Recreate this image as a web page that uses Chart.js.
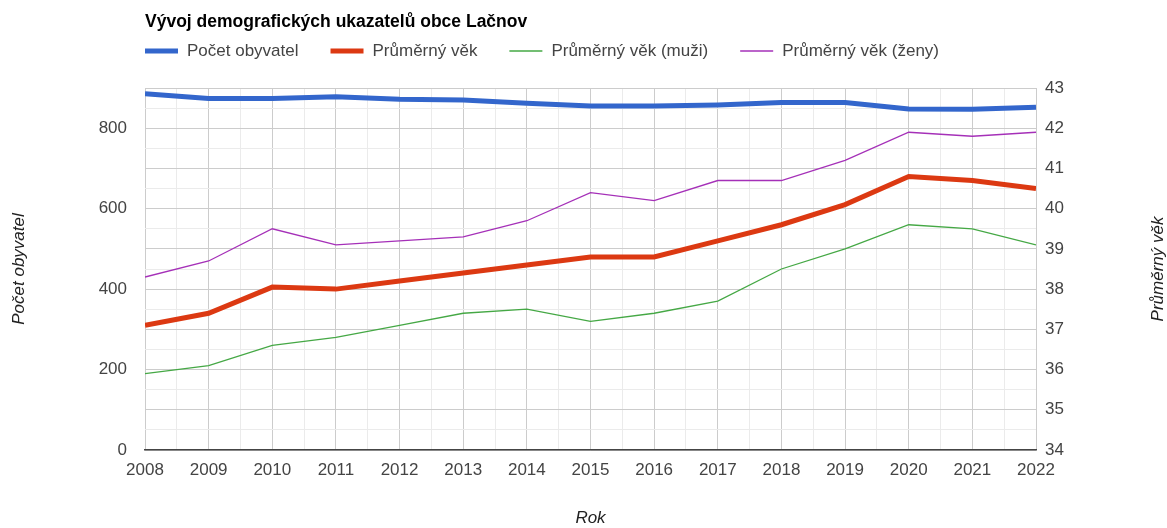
<!DOCTYPE html>
<html lang="cs">
<head>
<meta charset="utf-8">
<title>Vývoj demografických ukazatelů obce Lačnov</title>
<script src="https://cdn.jsdelivr.net/npm/chart.js@4.4.1/dist/chart.umd.min.js"></script>
<style>
  html, body { margin: 0; padding: 0; background: #fff; }
  #wrap { width: 1167px; height: 528px; position: relative; }
</style>
</head>
<body>
<div id="wrap"><canvas id="chart" width="1167" height="528"></canvas></div>
<script>
const years = [2008, 2009, 2010, 2011, 2012, 2013, 2014, 2015, 2016, 2017, 2018, 2019, 2020, 2021, 2022];
const pocetObyvatel = [886, 874, 874, 878, 872, 870, 862, 855, 855, 858, 864, 864, 848, 847, 852];
const prumernyVek = [37.1, 37.4, 38.05, 38.0, 38.2, 38.4, 38.6, 38.8, 38.8, 39.2, 39.6, 40.1, 40.8, 40.7, 40.5];
const vekMuzi = [35.9, 36.1, 36.6, 36.8, 37.1, 37.4, 37.5, 37.2, 37.4, 37.7, 38.5, 39.0, 39.6, 39.5, 39.1];
const vekZeny = [38.3, 38.7, 39.5, 39.1, 39.2, 39.3, 39.7, 40.4, 40.2, 40.7, 40.7, 41.2, 41.9, 41.8, 41.9];

const chartTitle = 'Vývoj demografických ukazatelů obce Lačnov';
const FONT = 'Arial, "Liberation Sans", sans-serif';
const TEXT = '#444';
const FS = 17;

const pts = vals => vals.map((v, i) => ({ x: years[i], y: v }));

// title + legend drawn above the plot, lined up with the chart area (google style)
const headerPlugin = {
  id: 'header',
  afterDraw(chart) {
    const ctx = chart.ctx;
    const left = chart.chartArea.left;
    ctx.save();
    ctx.fillStyle = '#000';
    ctx.font = 'bold 17.5px ' + FONT;
    ctx.textBaseline = 'middle';
    ctx.textAlign = 'left';
    ctx.fillText(chartTitle, left, 22);

    ctx.font = FS + 'px ' + FONT;
    let x = left;
    const y = 51;
    for (const ds of chart.data.datasets) {
      ctx.strokeStyle = ds.borderColor;
      ctx.lineWidth = ds.borderWidth;
      ctx.beginPath();
      ctx.moveTo(x, y);
      ctx.lineTo(x + 33, y);
      ctx.stroke();
      ctx.fillStyle = TEXT;
      ctx.fillText(ds.label, x + 42, y);
      x += 42 + ctx.measureText(ds.label).width + 32;
    }

    // right axis title, reading bottom to top
    ctx.font = 'italic ' + FS + 'px ' + FONT;
    ctx.fillStyle = '#222';
    ctx.textAlign = 'center';
    ctx.translate(1158, (chart.chartArea.top + chart.chartArea.bottom) / 2);
    ctx.rotate(-Math.PI / 2);
    ctx.fillText('Průměrný věk', 0, 0);
    ctx.restore();
  }
};

const ctx = document.getElementById('chart').getContext('2d');
new Chart(ctx, {
  type: 'line',
  data: {
    datasets: [
      { label: 'Počet obyvatel', data: pts(pocetObyvatel), yAxisID: 'y', borderColor: '#3366cc', borderWidth: 5 },
      { label: 'Průměrný věk', data: pts(prumernyVek), yAxisID: 'y1', borderColor: '#dc3912', borderWidth: 5 },
      { label: 'Průměrný věk (muži)', data: pts(vekMuzi), yAxisID: 'y1', borderColor: '#45a845', borderWidth: 1.3 },
      { label: 'Průměrný věk (ženy)', data: pts(vekZeny), yAxisID: 'y1', borderColor: '#a530b8', borderWidth: 1.3 }
    ]
  },
  options: {
    responsive: false,
    animation: false,
    layout: { padding: { top: 88 } },
    elements: { point: { radius: 0 }, line: { tension: 0 } },
    plugins: {
      legend: { display: false },
      title: { display: false },
      tooltip: { enabled: false }
    },
    scales: {
      x: {
        type: 'linear',
        min: 2008,
        max: 2022,
        afterFit: s => { s.height = 78; },
        grid: {
          drawTicks: false,
          color: c => Number.isInteger(c.tick.value) ? '#cccccc' : '#ebebeb'
        },
        border: { color: '#444', width: 1.5 },
        ticks: {
          stepSize: 0.5,
          autoSkip: false,
          maxRotation: 0,
          padding: 10,
          color: TEXT,
          font: { family: FONT, size: FS },
          callback: v => Number.isInteger(v) ? String(v) : ''
        },
        title: {
          display: true,
          text: 'Rok',
          color: '#222',
          padding: 0,
          font: { family: FONT, size: FS, style: 'italic' }
        }
      },
      y: {
        position: 'left',
        min: 0,
        max: 900,
        afterFit: s => { s.width = 145; },
        grid: { display: false, drawTicks: false },
        border: { display: false },
        ticks: {
          stepSize: 100,
          autoSkip: false,
          padding: 18,
          color: TEXT,
          font: { family: FONT, size: FS },
          callback: v => v % 200 === 0 ? String(v) : ''
        },
        title: {
          display: true,
          text: 'Počet obyvatel',
          color: '#222',
          padding: { top: 9, bottom: 0 },
          font: { family: FONT, size: FS, style: 'italic' }
        }
      },
      y1: {
        position: 'right',
        min: 34,
        max: 43,
        afterFit: s => { s.width = 131; },
        grid: {
          drawTicks: false,
          color: c => Number.isInteger(c.tick.value) ? '#cccccc' : '#ebebeb'
        },
        border: { display: false },
        ticks: {
          stepSize: 0.5,
          autoSkip: false,
          padding: 9,
          color: TEXT,
          font: { family: FONT, size: FS },
          callback: v => Number.isInteger(v) ? String(v) : ''
        }
      }
    }
  },
  plugins: [headerPlugin]
});
</script>
</body>
</html>
